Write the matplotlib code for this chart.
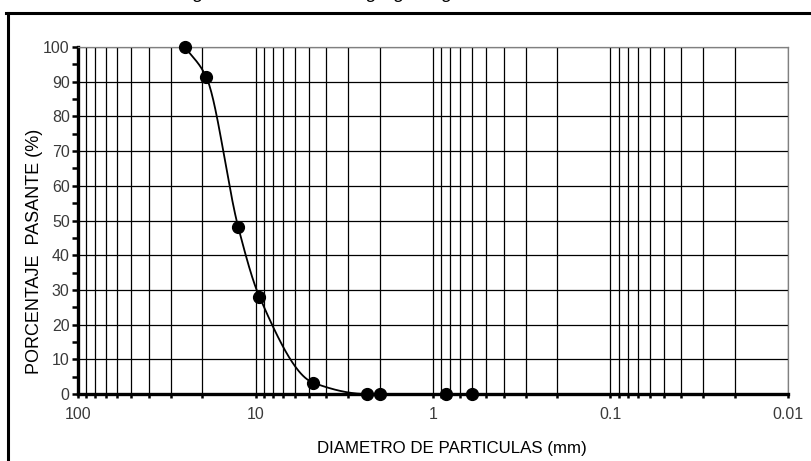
import numpy as np
import matplotlib
matplotlib.use("Agg")
import matplotlib.pyplot as plt
from matplotlib.lines import Line2D
from matplotlib.ticker import FixedLocator, NullFormatter

plt.rcParams['font.family'] = ['Liberation Sans', 'DejaVu Sans']

# Data
diametro_mm = [25.0, 19.0, 12.5, 9.5, 4.75, 2.36, 2.0, 0.85, 0.6]
pasante_pct = [100.0, 91.5, 48.0, 28.0, 3.3, 0.0, 0.0, 0.0, 0.0]
x_ticks = [100, 10, 1, 0.1, 0.01]
x_tick_labels = ["100", "10", "1", "0.1", "0.01"]
y_ticks = list(range(0, 101, 10))
titulo = "Curva granulométrica del agregado grueso"
x_label = "DIAMETRO DE PARTICULAS (mm)"
y_label = "PORCENTAJE  PASANTE (%)"

fig = plt.figure(figsize=(8.12, 4.61), dpi=100)
ax = fig.add_axes([0.0961, 0.1453, 0.8743, 0.7527])

ax.set_xscale('log')
ax.set_xlim(100, 0.01)
ax.set_ylim(0, 100)

minors = [m * 10.0 ** e for e in range(-2, 2) for m in range(2, 10)]
ax.xaxis.set_major_locator(FixedLocator(x_ticks))
ax.xaxis.set_minor_locator(FixedLocator(minors))
ax.set_xticklabels(x_tick_labels)
ax.xaxis.set_minor_formatter(NullFormatter())
ax.yaxis.set_major_locator(FixedLocator(y_ticks))
ax.yaxis.set_minor_locator(FixedLocator(list(range(5, 100, 10))))

ax.grid(True, which='major', axis='both', color='black', linewidth=0.9)
ax.grid(True, which='minor', axis='x', color='black', linewidth=0.9)
ax.set_axisbelow(True)

for s in ['top', 'right']:
    ax.spines[s].set_color('#808080')
    ax.spines[s].set_linewidth(0.9)
for s in ['left', 'bottom']:
    ax.spines[s].set_color('black')
    ax.spines[s].set_linewidth(2.4)

tick_color = '#3a3a3a'
ax.tick_params(axis='y', which='both', direction='out', length=4, width=1.8,
               color='black', labelsize=11.5, labelcolor=tick_color, pad=2)
ax.tick_params(axis='x', which='both', direction='out', length=3, width=1.8,
               color='black', labelsize=11.5, labelcolor=tick_color, pad=6)

# smooth monotone curve (Fritsch-Carlson) in log-x / y space through the points
lx = -np.log10(np.array(diametro_mm)) * 177.5
yy = np.array(pasante_pct) * 3.47
h = np.diff(lx)
d = np.diff(yy) / h
m = np.zeros_like(yy)
m[0], m[-1] = d[0], d[-1]
for i in range(1, len(yy) - 1):
    if d[i - 1] * d[i] <= 0:
        m[i] = 0.0
    else:
        w1 = 2 * h[i] + h[i - 1]
        w2 = h[i] + 2 * h[i - 1]
        m[i] = (w1 + w2) / (w1 / d[i - 1] + w2 / d[i])
cu, cv = [], []
for i in range(len(yy) - 1):
    t = np.linspace(0, 1, 50)
    h00 = 2 * t ** 3 - 3 * t ** 2 + 1
    h10 = t ** 3 - 2 * t ** 2 + t
    h01 = -2 * t ** 3 + 3 * t ** 2
    h11 = t ** 3 - t ** 2
    cu.append(lx[i] + t * h[i])
    cv.append(h00 * yy[i] + h10 * h[i] * m[i] + h01 * yy[i + 1] + h11 * h[i] * m[i + 1])
cx = 10 ** (-np.concatenate(cu) / 177.5)
cy = np.concatenate(cv) / 3.47
ax.plot(cx, cy, color='black', linewidth=1.3, zorder=3)
ax.plot(diametro_mm, pasante_pct, 'o', color='black', markersize=8.5, zorder=4,
        clip_on=False)

ax.set_xlabel(x_label, fontsize=12.2, color='black')
ax.xaxis.set_label_coords(0.527, -0.135)
ax.set_ylabel(y_label, fontsize=13, color='black')
ax.yaxis.set_label_coords(-0.05, 0.41)

# figure frame (top and left lines)
fig.add_artist(Line2D([6 / 812, 1.0], [1 - 13 / 461, 1 - 13 / 461],
                      transform=fig.transFigure, color='black', linewidth=2.2))
fig.add_artist(Line2D([7.5 / 812, 7.5 / 812], [0, 1 - 13 / 461],
                      transform=fig.transFigure, color='black', linewidth=2.2))

# title, cut off at the top in the reference
fig.text(137 / 812, 1.0 + 1.5 / 461, titulo, fontsize=13.8, style='italic',
         ha='left', va='baseline')

fig.savefig("out.png", dpi=100)
